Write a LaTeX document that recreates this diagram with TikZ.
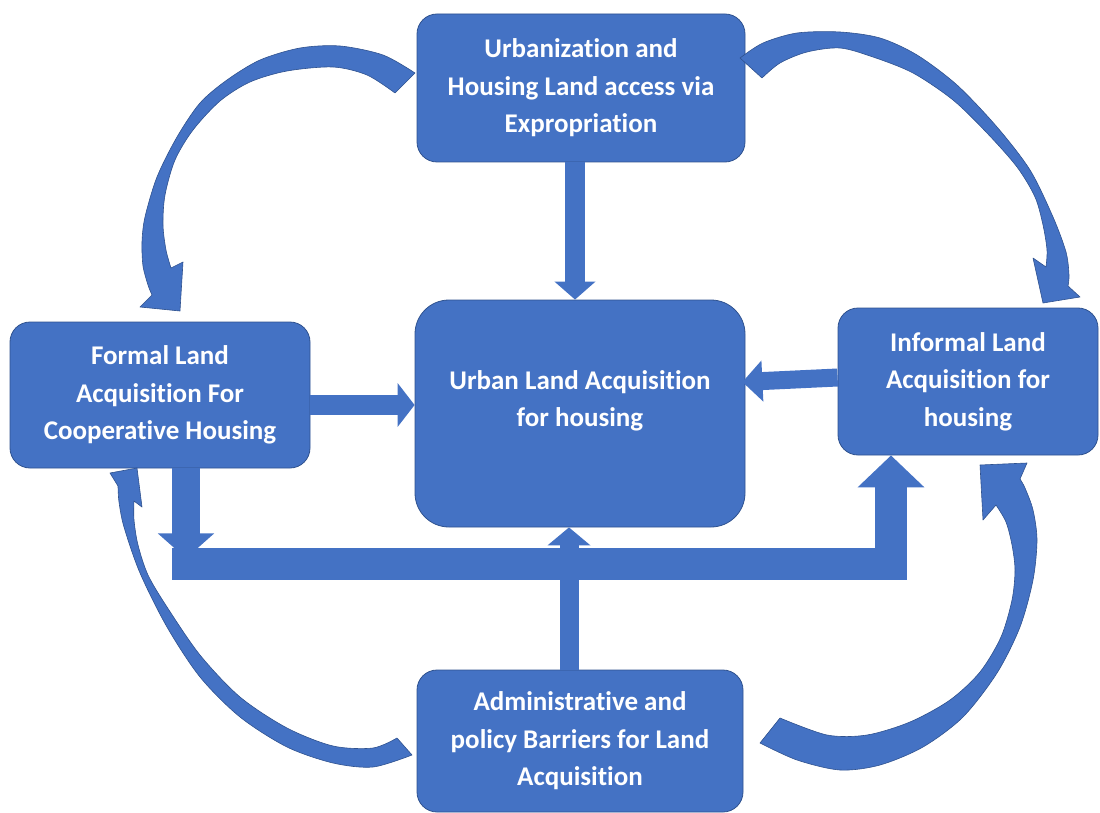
\documentclass[tikz,border=0pt]{standalone}
\usepackage{fontspec}
\setmainfont{Carlito}[Ligatures=NoCommon]
\usetikzlibrary{arrows.meta,calc}
\definecolor{boxfill}{HTML}{4472C4}
\definecolor{boxline}{HTML}{2F528F}
\begin{document}
\begin{tikzpicture}[x=1pt,y=-1pt,
  box/.style={draw=boxline, line width=0.8pt, fill=boxfill, inner sep=0pt,
    text=white, align=center, font=\fontsize{27}{37.5}\selectfont\bfseries},
  blockarrow/.style={draw=boxfill, line cap=butt, line join=miter},
  curved/.style={fill=boxfill, draw=boxline, line width=0.6pt, line join=round}]
\useasboundingbox (0,0) rectangle (1100,813);

% boxes
\node[box, minimum width=328pt, minimum height=148pt, rounded corners=20pt] (top) at (581,88)
  {Urbanization and\\Housing Land access via\\Expropriation};
\node[box, minimum width=330pt, minimum height=227pt, rounded corners=34pt, text depth=30pt] (center) at (580,413.5)
  {Urban Land Acquisition\\for housing};
\node[box, minimum width=300pt, minimum height=146pt, rounded corners=20pt] (left) at (160,395)
  {Formal Land\\Acquisition For\\Cooperative Housing};
\node[box, minimum width=260pt, minimum height=147pt, rounded corners=20pt] (right) at (968,381.5)
  {Informal Land\\Acquisition for\\housing};
\node[box, minimum width=326pt, minimum height=142pt, rounded corners=20pt] (bottom) at (580,741)
  {Administrative and\\policy Barriers for Land\\Acquisition};

% straight block arrows
\draw[blockarrow, line width=20pt, -{Triangle[width=40pt,length=18pt]}]
  ([xshift=-6pt]top.south) -- ([xshift=-5pt]center.north);
\draw[blockarrow, line width=20pt, -{Triangle[width=43pt,length=17pt]}]
  ([yshift=-10pt]left.east) -- ([yshift=8.5pt]center.west);
\draw[blockarrow, line width=18pt, -{Triangle[width=40pt,length=20pt]}]
  ([yshift=4pt]right.west) -- ([xshift=-3pt,yshift=31.5pt]center.east);

% elbow connector along the bottom
\coordinate (barstart) at (172,564);
\draw[blockarrow, line width=32pt, -{Triangle[width=65pt,length=32pt]}]
  (barstart) -- (891,564) -- ([xshift=-77pt]right.south);
\draw[blockarrow, line width=28pt, -{Triangle[width=55pt,length=25pt]}]
  ([xshift=26pt]left.south) -- ++(0,90);
\draw[blockarrow, line width=19pt, -{Triangle[width=42pt,length=18pt]}]
  ([xshift=-11pt]bottom.north) -- ([xshift=-11pt]center.south);

% curved arrows
\filldraw[curved] plot[smooth] coordinates {(415,73) (383,55) (340,46) (300,48) (260,60) (227,80) (200,103) (177,137) (157,177) (145,217) (142,242) (143,266) (148,285) (152,295)}
  -- (140,307) -- (180,311) -- (183,262)
  -- plot[smooth] coordinates {(171,268) (166,250) (163,225) (165,195) (175,160) (193,130) (220,101) (250,82) (287,71) (333,67) (367,75) (395,93)} -- cycle;

\filldraw[curved] plot[smooth] coordinates {(740,58) (763,43) (797,33) (840,32) (880,38) (917,55) (957,85) (997,127) (1030,170) (1053,217) (1066,252) (1069,275) (1068,286)}
  -- (1080,297) -- (1043,303) -- (1033,258)
  -- plot[smooth] coordinates {(1046,267) (1047,250) (1043,225) (1035,197) (1017,167) (987,133) (953,100) (913,73) (873,57) (840,48) (807,52) (780,63) (762,78)} -- cycle;

\filldraw[curved] plot[smooth] coordinates {(412,755) (373,767) (333,763) (287,747) (240,717) (200,677) (167,627) (140,573) (124,527) (119,502) (118,486)}
  -- (110,473) -- (137,468) -- (142,507)
  -- plot[smooth] coordinates {(134,501) (134,520) (138,545) (148,575) (167,607) (200,655) (240,697) (287,728) (333,746) (373,748) (397,738)} -- cycle;

\filldraw[curved] plot[smooth] coordinates {(760,743) (797,760) (840,770) (880,765) (923,747) (963,717) (997,673) (1020,627) (1033,580) (1037,540) (1033,510) (1025,488) (1020,479)}
  -- (1027,463) -- (980,465) -- (983,520)
  -- plot[smooth] coordinates {(996,505) (1006,522) (1012,545) (1015,570) (1012,600) (1001,637) (980,672) (950,700) (910,722) (867,735) (827,735) (780,718)} -- cycle;
\end{tikzpicture}
\end{document}
